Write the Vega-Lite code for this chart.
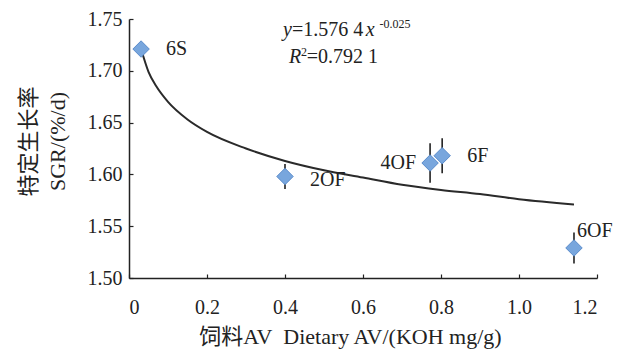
{
  "$schema": "https://vega.github.io/schema/vega-lite/v6.json",
  "autosize": "none",
  "width": 468,
  "height": 259,
  "padding": {"left": 129, "top": 19, "right": 37, "bottom": 82},
  "background": "white",
  "config": {
    "view": {"stroke": null},
    "font": "Liberation Serif",
    "axis": {
      "grid": false,
      "domainColor": "#222",
      "domainWidth": 1.5,
      "tickColor": "#222",
      "tickWidth": 1.2,
      "labelFont": "Liberation Serif",
      "labelFontSize": 20,
      "labelColor": "#222",
      "titleFont": "Liberation Serif, Noto Sans CJK SC",
      "titleFontSize": 22,
      "titleFontWeight": "normal",
      "titleColor": "#222"
    }
  },
  "datasets": {
    "pts": [
      {"diet": "6S", "av": 0.031, "sgr": 1.721, "err": 0.005, "pos": "right"},
      {"diet": "2OF", "av": 0.40, "sgr": 1.598, "err": 0.012, "pos": "rightlow"},
      {"diet": "4OF", "av": 0.772, "sgr": 1.611, "err": 0.019, "pos": "left"},
      {"diet": "6F", "av": 0.803, "sgr": 1.618, "err": 0.017, "pos": "right"},
      {"diet": "6OF", "av": 1.141, "sgr": 1.529, "err": 0.015, "pos": "top"}
    ],
    "fit": [
      {"av": 0.031, "sgr": 1.721},
      {"av": 0.05, "sgr": 1.699},
      {"av": 0.07, "sgr": 1.685},
      {"av": 0.1, "sgr": 1.670},
      {"av": 0.15, "sgr": 1.653},
      {"av": 0.2, "sgr": 1.641},
      {"av": 0.3, "sgr": 1.625},
      {"av": 0.4, "sgr": 1.613},
      {"av": 0.5, "sgr": 1.604},
      {"av": 0.6, "sgr": 1.597},
      {"av": 0.7, "sgr": 1.590},
      {"av": 0.8, "sgr": 1.585},
      {"av": 0.9, "sgr": 1.581},
      {"av": 1.0, "sgr": 1.576},
      {"av": 1.141, "sgr": 1.571}
    ],
    "eq": [
      {"t": "y", "av": 0.395, "sgr": 1.7335, "kind": "it"},
      {"t": "=1.576 4", "av": 0.418, "sgr": 1.7335, "kind": "rm"},
      {"t": "x", "av": 0.607, "sgr": 1.7335, "kind": "it"},
      {"t": "-0.025", "av": 0.642, "sgr": 1.7413, "kind": "sup"},
      {"t": "R", "av": 0.41, "sgr": 1.7074, "kind": "it"},
      {"t": "2", "av": 0.441, "sgr": 1.7145, "kind": "sup"},
      {"t": "=0.792 1", "av": 0.456, "sgr": 1.7074, "kind": "rm"}
    ]
  },
  "encoding": {
    "x": {
      "field": "av", "type": "quantitative",
      "scale": {"domain": [0, 1.2], "nice": false},
      "axis": {
        "values": [0, 0.2, 0.4, 0.6, 0.8, 1.0, 1.2],
        "labelExpr": "datum.value == 0 ? '0' : format(datum.value, '.1f')",
        "tickSize": -4,
        "labelPadding": 23,
        "title": "饲料AV\u00a0\u00a0Dietary AV/(KOH mg/g)",
        "titleX": 221,
        "titleY": 58,
        "titleBaseline": "middle",
        "titleAnchor": "middle"
      }
    },
    "y": {
      "field": "sgr", "type": "quantitative",
      "scale": {"domain": [1.5, 1.75], "nice": false, "zero": false},
      "axis": {
        "values": [1.5, 1.55, 1.6, 1.65, 1.7, 1.75],
        "format": ".2f",
        "tickSize": -4,
        "labelPadding": 11,
        "title": ["特定生长率", "SGR/(%/d)"],
        "titleAngle": -90,
        "titleX": -111,
        "titleY": 122,
        "titleAlign": "center",
        "titleBaseline": "top",
        "titleLineHeight": 29
      }
    }
  },
  "layer": [
    {
      "data": {"name": "fit"},
      "mark": {"type": "line", "color": "#2a2a2a", "strokeWidth": 2, "interpolate": "monotone"}
    },
    {
      "data": {"name": "pts"},
      "transform": [
        {"calculate": "datum.sgr - datum.err", "as": "lo"},
        {"calculate": "datum.sgr + datum.err", "as": "hi"}
      ],
      "mark": {"type": "rule", "color": "#222", "strokeWidth": 1.6},
      "encoding": {
        "y": {"field": "lo", "type": "quantitative"},
        "y2": {"field": "hi"}
      }
    },
    {
      "data": {"name": "pts"},
      "mark": {"type": "point", "shape": "diamond", "size": 270, "filled": true, "fill": "#78a6dd", "stroke": "#5b8ccb", "strokeWidth": 1, "opacity": 1}
    },
    {
      "data": {"name": "pts"},
      "transform": [{"filter": "datum.pos == 'right'"}],
      "mark": {"type": "text", "align": "left", "baseline": "middle", "dx": 25, "fontSize": 20, "font": "Liberation Serif", "color": "#222"},
      "encoding": {"text": {"field": "diet"}}
    },
    {
      "data": {"name": "pts"},
      "transform": [{"filter": "datum.pos == 'rightlow'"}],
      "mark": {"type": "text", "align": "left", "baseline": "middle", "dx": 25, "dy": 4, "fontSize": 20, "font": "Liberation Serif", "color": "#222"},
      "encoding": {"text": {"field": "diet"}}
    },
    {
      "data": {"name": "pts"},
      "transform": [{"filter": "datum.pos == 'left'"}],
      "mark": {"type": "text", "align": "right", "baseline": "middle", "dx": -14, "dy": 0, "fontSize": 20, "font": "Liberation Serif", "color": "#222"},
      "encoding": {"text": {"field": "diet"}}
    },
    {
      "data": {"name": "pts"},
      "transform": [{"filter": "datum.pos == 'top'"}],
      "mark": {"type": "text", "align": "left", "baseline": "middle", "dx": 3, "dy": -17, "fontSize": 20, "font": "Liberation Serif", "color": "#222"},
      "encoding": {"text": {"field": "diet"}}
    },
    {
      "data": {"name": "eq"},
      "transform": [{"filter": "datum.kind == 'it'"}],
      "mark": {"type": "text", "align": "left", "baseline": "alphabetic", "fontSize": 20, "fontStyle": "italic", "font": "Liberation Serif", "color": "#222"},
      "encoding": {"text": {"field": "t"}}
    },
    {
      "data": {"name": "eq"},
      "transform": [{"filter": "datum.kind == 'rm'"}],
      "mark": {"type": "text", "align": "left", "baseline": "alphabetic", "fontSize": 20, "font": "Liberation Serif", "color": "#222"},
      "encoding": {"text": {"field": "t"}}
    },
    {
      "data": {"name": "eq"},
      "transform": [{"filter": "datum.kind == 'sup'"}],
      "mark": {"type": "text", "align": "left", "baseline": "alphabetic", "fontSize": 12, "font": "Liberation Serif", "color": "#222"},
      "encoding": {"text": {"field": "t"}}
    }
  ]
}
